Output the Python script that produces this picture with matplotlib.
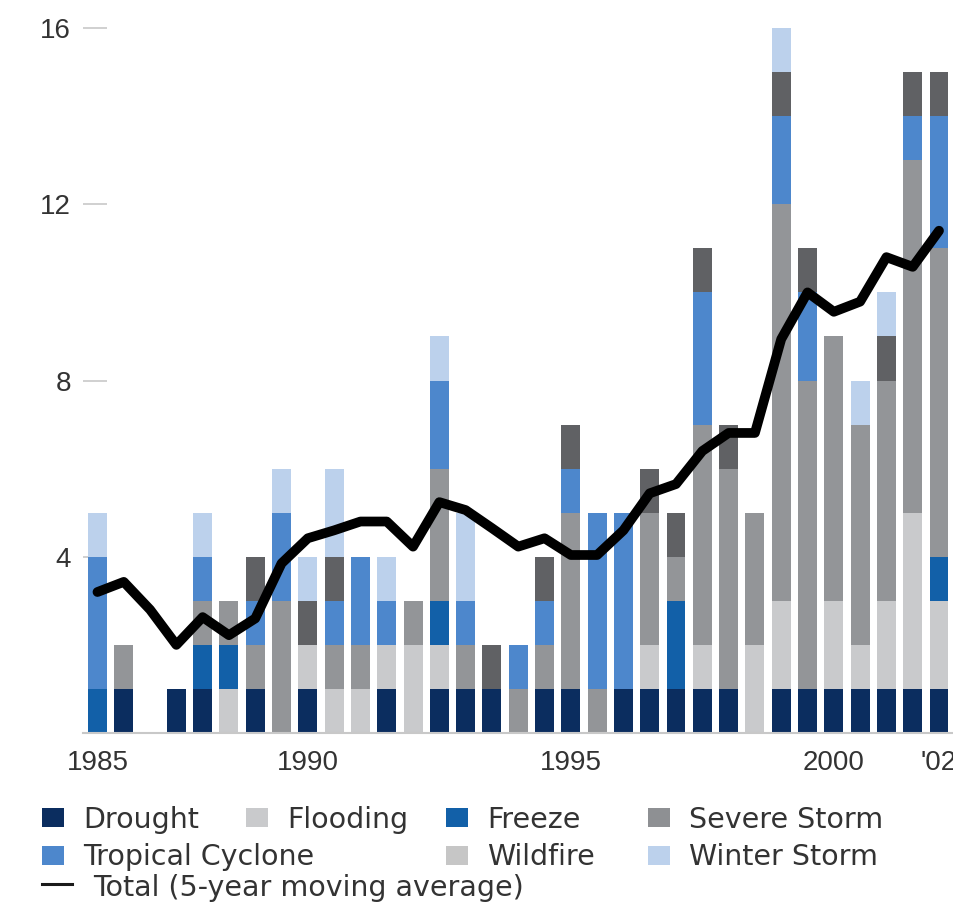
import matplotlib.pyplot as plt
from matplotlib.patches import Rectangle
from matplotlib.lines import Line2D
import numpy as np

# --- data (events per bar) ---
drought  = [0, 1, 0, 1, 1, 0, 1, 0, 1, 0, 0, 1, 0, 1, 1, 1, 0, 1, 1, 0, 1, 1, 1, 1, 1, 0, 1, 1, 1, 1, 1, 1, 1]
flooding = [0, 0, 0, 0, 0, 1, 0, 0, 1, 1, 1, 1, 2, 1, 0, 0, 0, 0, 0, 0, 0, 1, 0, 1, 0, 2, 2, 0, 2, 1, 2, 4, 2]
freeze   = [1, 0, 0, 0, 1, 1, 0, 0, 0, 0, 0, 0, 0, 1, 0, 0, 0, 0, 0, 0, 0, 0, 2, 0, 0, 0, 0, 0, 0, 0, 0, 0, 1]
severe   = [0, 1, 0, 0, 1, 1, 1, 3, 0, 1, 1, 0, 1, 3, 1, 0, 1, 1, 4, 1, 0, 3, 1, 5, 5, 3, 9, 7, 6, 5, 5, 8, 7]
tropical = [3, 0, 0, 0, 1, 0, 1, 2, 0, 1, 2, 1, 0, 2, 1, 0, 1, 1, 1, 4, 4, 0, 0, 3, 0, 0, 2, 2, 0, 0, 0, 1, 3]
wildfire = [0, 0, 0, 0, 0, 0, 1, 0, 1, 1, 0, 0, 0, 0, 0, 1, 0, 1, 1, 0, 0, 1, 1, 1, 1, 0, 1, 1, 0, 0, 1, 1, 1]
winter   = [1, 0, 0, 0, 1, 0, 0, 1, 1, 2, 0, 1, 0, 1, 2, 0, 0, 0, 0, 0, 0, 0, 0, 0, 0, 0, 1, 0, 0, 1, 1, 0, 0]

moving_avg = [3.2, 3.43, 2.8, 2.0, 2.63, 2.22, 2.6, 3.85, 4.42, 4.6, 4.8, 4.8, 4.23,
              5.24, 5.06, 4.65, 4.23, 4.42, 4.04, 4.04, 4.6, 5.44, 5.65, 6.4, 6.81,
              6.81, 8.94, 10.0, 9.56, 9.79, 10.8, 10.58, 11.4]

tick_pos = [0, 8, 18, 28, 32]
tick_labels = ['1985', '1990', '1995', '2000', "'02"]

labels = ['Drought', 'Flooding', 'Freeze', 'Severe Storm',
          'Tropical Cyclone', 'Wildfire', 'Winter Storm']
series = [drought, flooding, freeze, severe, tropical, wildfire, winter]
bar_colors = ['#0b2d5f', '#c9cacc', '#1260a8', '#939598', '#4d87cc', '#606164', '#bcd1ec']
legend_colors = ['#0b2d5f', '#c9cacc', '#1260a8', '#8e9093', '#4d87cc', '#c6c6c6', '#bcd1ec']

plt.rcParams['font.family'] = ['Liberation Sans', 'DejaVu Sans']
TXT = '#333333'

W, H = 954, 905
fig = plt.figure(figsize=(W / 100, H / 100), dpi=100)
ax = fig.add_axes([83 / W, (H - 733) / H, (W - 83) / W, 16.3 * 44.06 / H])

x = np.arange(len(drought))
bottom = np.zeros(len(x))
for vals, c in zip(series, bar_colors):
    v = np.array(vals, dtype=float)
    ax.bar(x, v, 0.72, bottom=bottom, color=c, linewidth=0, zorder=2)
    bottom += v

ax.plot(x, moving_avg, color='black', lw=7, solid_joinstyle='round',
        solid_capstyle='round', zorder=3)

ax.set_xlim(-0.55, 32.57)
ax.set_ylim(0, 16.3)
ax.set_axisbelow(True)

ax.set_yticks([4, 8, 12, 16])
ax.tick_params(axis='y', direction='in', length=17, width=1.2, color='#c8c8c8',
               pad=8.6, labelsize=20, labelcolor=TXT)
ax.set_xticks(tick_pos, tick_labels)
ax.tick_params(axis='x', length=0, pad=12, labelsize=20, labelcolor=TXT)

for s in ['top', 'right', 'left']:
    ax.spines[s].set_visible(False)
ax.spines['bottom'].set_color('#c8c8c8')
ax.spines['bottom'].set_linewidth(1.5)

# --- legend drawn by hand to follow the reference grid ---
slots = [(0, 0), (0, 1), (0, 2), (0, 3), (1, 0), (1, 2), (1, 3)]
col_x = [42, 246, 446, 648]
row_c = [817.5, 855]
row_base = [827.5, 864.5]
for (r, cidx), lab, col in zip(slots, labels, legend_colors):
    sx = col_x[cidx]
    fig.add_artist(Rectangle((sx / W, 1 - (row_c[r] + 9.5) / H), 22 / W, 19 / H,
                             transform=fig.transFigure, color=col, lw=0))
    fig.text((sx + 41) / W, 1 - row_base[r] / H, lab, va='baseline', ha='left',
             fontsize=20.5, family='DejaVu Sans', color=TXT)

fig.add_artist(Line2D([42 / W, 72 / W], [1 - 884 / H, 1 - 884 / H],
                      transform=fig.transFigure, color='#1a1a1a', lw=2.2))
fig.text(93 / W, 1 - 896 / H, 'Total (5-year moving average)', va='baseline',
         ha='left', fontsize=20.5, family='DejaVu Sans', color=TXT)

fig.savefig('out.png', dpi=100)
